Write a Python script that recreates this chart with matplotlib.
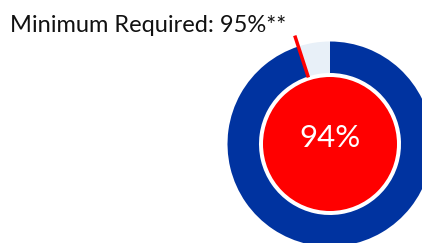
import numpy as np
import matplotlib
matplotlib.use("Agg")
import matplotlib.pyplot as plt
from matplotlib.patches import Circle

# Data
ring_labels = ["Achieved", "Remaining"]
ring_values = [95, 5]
score_label = "94%"
target = 95
title_text = "Minimum Required: 95%**"

W, H = 422, 243
fig = plt.figure(figsize=(W / 100, H / 100), dpi=100)
ax = fig.add_axes([0, 0, 1, 1])

cx, cy = 330, H - 144
R_out, R_in, R_core = 102.5, 71, 67

ax.pie(ring_values, radius=R_out, center=(cx, cy), startangle=90,
       counterclock=False, colors=["#0033A0", "#E8F0F8"],
       wedgeprops=dict(width=R_out - R_in, linewidth=0))

ax.add_patch(Circle((cx, cy), R_core, facecolor="#FF0000", edgecolor="none", zorder=3))

ang = np.deg2rad(90 + (100 - target) / 100 * 360)
r0, r1 = 70, 114
ax.plot([cx + r0 * np.cos(ang), cx + r1 * np.cos(ang)],
        [cy + r0 * np.sin(ang), cy + r1 * np.sin(ang)],
        color="#FF0000", lw=2.5, solid_capstyle="butt", zorder=4)

ax.text(cx, H - 138, score_label, ha="center", va="center", color="white",
        fontsize=22.5, family="Lato", zorder=5)
ax.text(10, H - 31.5, title_text, ha="left", va="baseline", color="#111111",
        fontsize=17, family="Lato")

ax.set_xlim(0, W)
ax.set_ylim(0, H)
ax.set_aspect("equal", adjustable="box")
ax.axis("off")
fig.savefig("out.png", dpi=100)
